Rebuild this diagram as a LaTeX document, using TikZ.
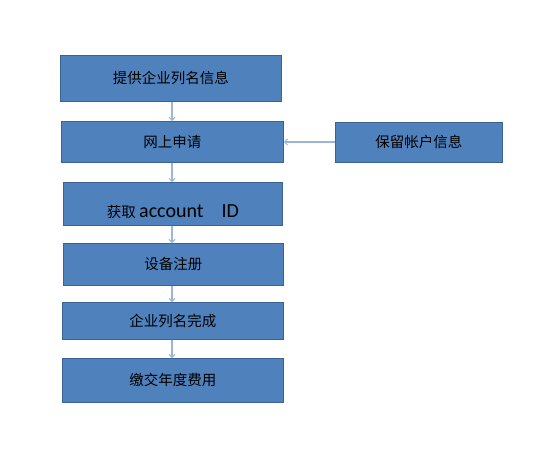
\documentclass[tikz,border=0pt]{standalone}
\usepackage{fontspec}
\setmainfont{Carlito}
\newfontfamily\cjk{Noto Sans CJK SC}
\usetikzlibrary{arrows.meta}
\definecolor{boxfill}{HTML}{4F81BD}
\definecolor{boxline}{HTML}{3A6394}
\definecolor{arrowc}{HTML}{9CB6DA}
\tikzset{
  fbox/.style={draw=boxline, line width=0.9pt, fill=boxfill, inner sep=0pt, anchor=north west, text=black, font=\fontsize{14.5}{16}\selectfont\cjk},
  flow/.style={draw=arrowc, line width=1.1pt, -{Straight Barb[length=3pt,width=6pt,line width=0.9pt]}}
}
\begin{document}
\begin{tikzpicture}[x=1pt,y=-1pt]
\useasboundingbox (0,0) rectangle (553,460);
\node[fbox, minimum width=221pt, minimum height=46pt] (b1) at (60,55) {提供企业列名信息};
\node[fbox, minimum width=222pt, minimum height=41pt] (b2) at (61,121) {网上申请};
\node[fbox, minimum width=167pt, minimum height=40pt] (r) at (335,122) {保留帐户信息};
\node[fbox, minimum width=219pt, minimum height=43pt] (b3) at (63,182) {\raisebox{-14pt}[0pt][0pt]{获取 {\fontsize{20}{22}\selectfont\rmfamily account}\hspace{18pt}{\fontsize{20}{22}\selectfont\rmfamily ID}}};
\node[fbox, minimum width=220pt, minimum height=42pt] (b4) at (63,243) {设备注册};
\node[fbox, minimum width=221pt, minimum height=37pt] (b5) at (62,302) {企业列名完成};
\node[fbox, minimum width=221pt, minimum height=44pt] (b6) at (62,358) {缴交年度费用};
\coordinate (ax) at (172,0);
\draw[flow] (ax |- b1.south) -- (ax |- b2.north);
\draw[flow] (ax |- b2.south) -- (ax |- b3.north);
\draw[flow] (ax |- b3.south) -- (ax |- b4.north);
\draw[flow] (ax |- b4.south) -- (ax |- b5.north);
\draw[flow] (ax |- b5.south) -- (ax |- b6.north);
\draw[flow] (r.west |- 0,142) -- (b2.east |- 0,142);
\end{tikzpicture}
\end{document}
